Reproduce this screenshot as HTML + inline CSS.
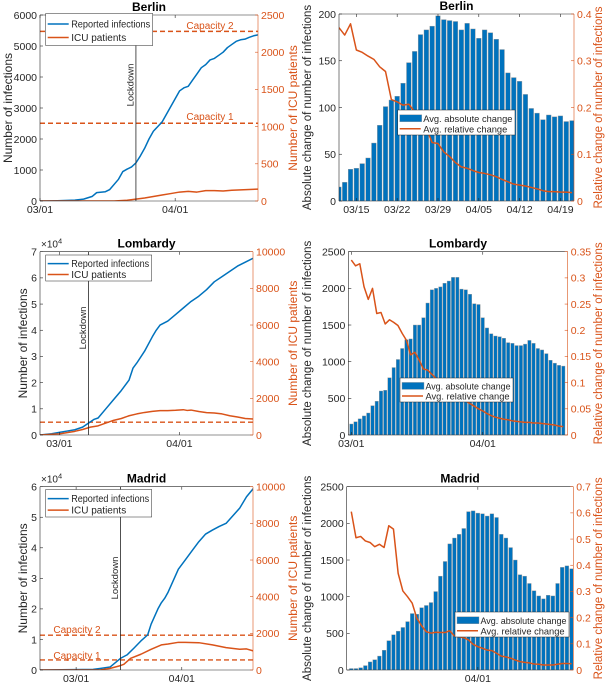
<!DOCTYPE html>
<html><head><meta charset="utf-8"><style>
body{margin:0;background:#fff;}
svg{display:block;font-family:"Liberation Sans",sans-serif;}
</style></head><body>
<svg id="fig" width="607" height="685" viewBox="0 0 607 685"></svg>
<script>
// ---------- DATA ----------
// Berlin (day 0 = 03/01)
const berlinInfDays = [0,4,8,10,12,13,15,16,18,19,20,21,22,23,24,25,26,27,28,29,30,31,32,33,34,35,36,37,38,39,40,41,42,43,44,45,46,47,48,49,50];
const berlinInfVals = [0,10,30,60,150,270,300,370,700,950,1030,1100,1230,1450,1700,2000,2250,2400,2550,2800,3050,3300,3550,3650,3700,3900,4100,4300,4400,4550,4600,4700,4800,4950,5050,5150,5200,5220,5280,5330,5360];
const berlinIcuDays = [0,17,20,22,24,26,28,30,32,34,36,38,40,42,44,46,48,50];
const berlinIcuVals = [0,0,10,25,40,60,80,100,120,130,120,140,140,135,145,150,155,160];
const berlinCapacities = [1045, 2280];
const berlinBarStart = 11;
const berlinAbs = [15,20,34,35,40,46,62,81,101,108,112,126,148,160,178,183,187,198,194,193,192,183,190,184,174,183,180,173,162,137,132,128,114,99,94,87,92,90,91,85,86];
const berlinRel = [0.371,0.355,0.379,0.323,0.318,0.31,0.303,0.287,0.277,0.217,0.212,0.205,0.207,0.191,0.175,0.155,0.125,0.123,0.105,0.095,0.082,0.073,0.07,0.065,0.061,0.059,0.056,0.052,0.046,0.041,0.036,0.034,0.032,0.029,0.026,0.022,0.02,0.02,0.019,0.019,0.018];
// Lombardy
const lombInfDays = [-5,-2,0,2,4,6,8,9,10,12,14,16,18,19,20,22,24,25,26,28,30,32,34,36,38,40,42,44,46,48,50];
const lombInfVals = [0,0.05,0.1,0.15,0.2,0.3,0.5,0.6,0.65,1.0,1.35,1.7,2.1,2.55,2.75,3.2,3.75,4.0,4.2,4.35,4.6,4.85,5.1,5.3,5.55,5.85,6.05,6.25,6.45,6.6,6.75];
const lombIcuDays = [-5,0,4,6,8,10,12,14,16,18,20,22,24,26,28,30,32,33,34,36,38,40,42,44,46,48,50];
const lombIcuVals = [0,60,200,300,430,500,650,800,900,1050,1150,1230,1290,1330,1330,1350,1380,1340,1360,1280,1220,1200,1150,1050,980,900,870];
const lombCapacities = [700];
const lombBarStart = 0;
const lombAbs = [150,180,220,260,300,400,460,600,610,780,920,1030,1180,1300,1310,1500,1500,1600,1800,1980,2000,2020,2070,2100,2150,2150,1990,1980,1920,1790,1780,1600,1460,1380,1350,1340,1320,1260,1250,1220,1220,1240,1290,1250,1180,1160,1110,1020,980,950,940];
const lombRel = [0.334,0.323,0.327,0.283,0.259,0.28,0.232,0.234,0.212,0.22,0.215,0.209,0.194,0.181,0.153,0.158,0.143,0.126,0.124,0.116,0.108,0.1,0.093,0.087,0.08,0.075,0.07,0.065,0.06,0.055,0.05,0.046,0.041,0.037,0.034,0.032,0.03,0.029,0.027,0.026,0.025,0.024,0.024,0.023,0.023,0.022,0.021,0.02,0.019,0.017,0.016];
// Madrid
const madInfDays = [-11,5,7,10,13,15,17,19,21,22,24,25,26,27,28,29,30,32,34,36,38,40,42,44,46,48,50,52];
const madInfVals = [0,0.02,0.05,0.1,0.38,0.5,0.72,0.95,1.15,1.5,2.0,2.2,2.35,2.55,2.8,3.05,3.3,3.6,3.9,4.2,4.45,4.58,4.7,4.8,5.05,5.3,5.67,5.94];
const madIcuDays = [-11,7,10,13,14,16,19,22,25,27,30,32,36,40,44,48,50,52];
const madIcuVals = [0,0,90,240,310,640,860,1130,1370,1420,1510,1510,1490,1370,1220,1130,1150,1040];
const madCapacities = [550, 1900];
const madBarStart = 4;
const madAbs = [20,20,30,60,110,140,190,270,400,480,530,580,660,770,760,850,880,920,1070,1280,1480,1720,1800,1850,1930,2160,2170,2140,2130,2100,2130,2080,1850,1800,1670,1500,1300,1280,1180,1080,1010,970,1020,1010,1180,1400,1420,1380];
const madRel = [0.605,0.505,0.51,0.493,0.487,0.471,0.48,0.468,0.551,0.538,0.369,0.302,0.28,0.255,0.197,0.169,0.146,0.141,0.144,0.143,0.143,0.15,0.13,0.127,0.123,0.115,0.098,0.089,0.083,0.076,0.074,0.064,0.053,0.05,0.045,0.038,0.032,0.029,0.027,0.023,0.022,0.019,0.019,0.019,0.022,0.025,0.025,0.024];
// ticks
const berlinLeftTicks = [0,1000,2000,3000,4000,5000,6000];
const berlinIcuTicks = [0,500,1000,1500,2000,2500];
const e4Ticks = [0,1,2,3,4,5,6,7];
const madE4Ticks = [0,1,2,3,4,5,6];
const icu10kTicks = [0,2000,4000,6000,8000,10000];
const berlinAbsTicks = [0,50,100,150,200];
const berlinRelTicks = [0,0.1,0.2,0.3,0.4];
const absTicks2500 = [0,500,1000,1500,2000,2500];
const lombRelTicks = [0,0.05,0.1,0.15,0.2,0.25,0.3,0.35];
const madRelTicks = [0,0.1,0.2,0.3,0.4,0.5,0.6,0.7];
const berlinDateTicks = [14,21,28,35,42,49];
const berlinDateLabels = ["03/15","03/22","03/29","04/05","04/12","04/19"];
const monthTicks = [0,31];
const monthLabels = ["03/01","04/01"];
const aprTicks = [31];
const aprLabels = ["04/01"];

// ---------- DRAWING ----------
const NS = "http://www.w3.org/2000/svg";
const svg = document.getElementById("fig");
const BLUE = "#0072BD", ORANGE = "#D95319";
function mk(parent, tag, attrs, txt){
  const el = document.createElementNS(NS, tag);
  for (const k in attrs) el.setAttribute(k, attrs[k]);
  if (txt !== undefined) el.textContent = txt;
  parent.appendChild(el);
  return el;
}
let clipId = 0;
function fmt(v){ return String(Math.round(v*1000)/1000); }

function panel(c){
  const g = mk(svg, "g", {});
  
  
  const sx = d => c.x0 + (d - c.xd[0]) / (c.xd[1] - c.xd[0]) * (c.x1 - c.x0);
  const syl = v => c.y1 - v / c.yl * (c.y1 - c.y0);
  const syr = v => c.y1 - v / c.yr * (c.y1 - c.y0);
  const id = "clip" + (clipId++);
  const defs = mk(g, "defs", {});
  const cp = mk(defs, "clipPath", {id: id});
  mk(cp, "rect", {x: c.x0, y: c.y0, width: c.x1 - c.x0, height: c.y1 - c.y0});
  const plot = mk(g, "g", {"clip-path": "url(#" + id + ")"});
  
  
  if (c.bars){
    const k = (c.x1 - c.x0) / (c.xd[1] - c.xd[0]);
    c.bars.forEach((v, i) => {
      const cx = sx(c.barStart + i);
      const r = mk(plot, "rect", {x: cx - k*0.4, y: syl(v), width: k*0.8, height: c.y1 - syl(v), fill: BLUE, stroke: "#9a9a9a", "stroke-width": 0.4});
      
      
    });
  }
  (c.caps || []).forEach((v) => {
    const l = mk(plot, "line", {x1: c.x0, x2: c.x1, y1: syr(v), y2: syr(v), stroke: ORANGE, "stroke-width": 1.4, "stroke-dasharray": "5,3"});
    
    
  });
  (c.lines || []).forEach(L => {
    const sy = L.axis === "r" ? syr : syl;
    const pts = L.days.map((d, i) => sx(d).toFixed(2) + "," + sy(L.vals[i]).toFixed(2)).join(" ");
    const p = mk(plot, "polyline", {points: pts, fill: "none", stroke: L.color, "stroke-width": 1.5, "stroke-linejoin": "round"});
    
    
  });
  if (c.lockdown !== undefined){
    const lx = sx(c.lockdown);
    const l = mk(g, "line", {x1: lx, x2: lx, y1: c.y0, y2: c.y1, stroke: "#262626", "stroke-width": 0.8});
    
    
    const t = mk(g, "text", {x: 0, y: 0, "font-size": 9.5, fill: "#262626", "text-anchor": "middle", transform: "translate(" + (lx - 2.5) + "," + c.lockY + ") rotate(-90)"}, "Lockdown");
    
    
  }
  (c.capLabels || []).forEach(cl => {
    const t = mk(g, "text", {x: cl.x, y: cl.y, "font-size": 10, fill: ORANGE, "text-anchor": "middle"}, cl.t);
    
    
  });
  mk(g, "line", {x1: c.x0, x2: c.x1, y1: c.y0, y2: c.y0, stroke: "#262626", "stroke-width": 0.6});
  mk(g, "line", {x1: c.x0, x2: c.x1, y1: c.y1, y2: c.y1, stroke: "#262626", "stroke-width": 0.6});
  mk(g, "line", {x1: c.x0, x2: c.x0, y1: c.y0, y2: c.y1, stroke: "#262626", "stroke-width": 0.6});
  mk(g, "line", {x1: c.x1, x2: c.x1, y1: c.y0, y2: c.y1, stroke: ORANGE, "stroke-width": 0.6});
  c.ylTicks.forEach(v => {
    const y = syl(v);
    mk(g, "line", {x1: c.x0, x2: c.x0 + 3, y1: y, y2: y, stroke: "#262626", "stroke-width": 0.6});
    const t = mk(g, "text", {x: c.x0 - 3, y: y + 3.8, "font-size": 10.5, fill: "#262626", "text-anchor": "end"}, fmt(v));
    
    
  });
  c.yrTicks.forEach(v => {
    const y = syr(v);
    mk(g, "line", {x1: c.x1 - 3, x2: c.x1, y1: y, y2: y, stroke: ORANGE, "stroke-width": 0.6});
    const t = mk(g, "text", {x: c.x1 + 3, y: y + 3.8, "font-size": 10.5, fill: ORANGE, "text-anchor": "start"}, fmt(v));
    
    
  });
  c.xTicks.forEach((d, i) => {
    const x = sx(d);
    mk(g, "line", {x1: x, x2: x, y1: c.y1, y2: c.y1 - 3, stroke: "#262626", "stroke-width": 0.6});
    mk(g, "line", {x1: x, x2: x, y1: c.y0, y2: c.y0 + 3, stroke: "#262626", "stroke-width": 0.6});
    const t = mk(g, "text", {x: x, y: c.y1 + 12, "font-size": 10.5, fill: "#262626", "text-anchor": "middle"}, c.xLabels[i]);
    
    
  });
  if (c.e4){
    const t = mk(g, "text", {x: c.x0 + 1, y: c.y0 - 4, "font-size": 10, fill: "#262626"}, "×10");
    
    
    mk(t, "tspan", {dy: -4, "font-size": 7.5}, "4");
  }
  const tt = mk(g, "text", {x: (c.x0 + c.x1)/2, y: c.y0 - 4, "font-size": 12, "font-weight": "bold", fill: "#000", "text-anchor": "middle"}, c.title);
  
  
  const cy = (c.y0 + c.y1)/2;
  const yl = mk(g, "text", {x: 0, y: 0, "font-size": c.labFs, fill: "#262626", "text-anchor": "middle", transform: "translate(" + c.ylX + "," + cy + ") rotate(-90)"}, c.ylLabel);
  
  
  const yr = mk(g, "text", {x: 0, y: 0, "font-size": c.labFs, fill: ORANGE, "text-anchor": "middle", transform: "translate(" + c.yrX + "," + cy + ") rotate(-90)"}, c.yrLabel);
  
  
  const L = c.legend;
  const lg = mk(g, "g", {});
  
  
  mk(lg, "rect", {x: L.x, y: L.y, width: L.w, height: L.h, fill: "#fff", stroke: "#262626", "stroke-width": 0.5});
  L.items.forEach((it, i) => {
    const ry = L.y + L.h * (i === 0 ? 0.33 : 0.75);
    if (it.bar) mk(lg, "rect", {x: L.x + 2, y: ry - 3.5, width: 22, height: 7, fill: BLUE, stroke: "#9a9a9a", "stroke-width": 0.4});
    else mk(lg, "line", {x1: L.x + 2, x2: L.x + 23, y1: ry, y2: ry, stroke: it.color, "stroke-width": 1.5});
    const t = mk(lg, "text", {x: L.x + 25.5, y: ry + 3.5, "font-size": L.fs || 10, fill: "#262626"}, it.t);
    
    
    const maxW = L.w - 28;
    try { if (t.getComputedTextLength() > maxW) { t.setAttribute("textLength", maxW); t.setAttribute("lengthAdjust", "spacingAndGlyphs"); } } catch(e) {}
  });
}

const leftLegend = [{t: "Reported infections", color: BLUE}, {t: "ICU patients", color: ORANGE}];
const rightLegend = [{t: "Avg. absolute change", bar: true}, {t: "Avg. relative change", color: ORANGE}];

panel({name: "berlin-infections-panel", title: "Berlin", x0: 40, x1: 258, y0: 15, y1: 201, xd: [0, 50],
  yl: 6000, ylTicks: berlinLeftTicks, yr: 2500, yrTicks: berlinIcuTicks, xTicks: monthTicks, xLabels: monthLabels,
  lines: [{days: berlinInfDays, vals: berlinInfVals, color: BLUE, axis: "l", name: "reported-infections-line"},
          {days: berlinIcuDays, vals: berlinIcuVals, color: ORANGE, axis: "r", name: "icu-patients-line"}],
  caps: berlinCapacities, capLabels: [{x: 210, y: 29, t: "Capacity 2"}, {x: 210, y: 120, t: "Capacity 1"}],
  lockdown: 22, lockY: 85, ylX: 12, yrX: 297, labFs: 12,
  ylLabel: "Number of infections", yrLabel: "Number of ICU patients",
  legend: {x: 45.7, y: 13.5, w: 107, h: 32, items: leftLegend}});

panel({name: "lombardy-infections-panel", title: "Lombardy", x0: 40, x1: 253, y0: 251.7, y1: 435, xd: [-5, 50], e4: true,
  yl: 7, ylTicks: e4Ticks, yr: 10000, yrTicks: icu10kTicks, xTicks: monthTicks, xLabels: monthLabels,
  lines: [{days: lombInfDays, vals: lombInfVals, color: BLUE, axis: "l", name: "reported-infections-line"},
          {days: lombIcuDays, vals: lombIcuVals, color: ORANGE, axis: "r", name: "icu-patients-line"}],
  caps: lombCapacities, capLabels: [],
  lockdown: 7.5, lockY: 328, ylX: 27, yrX: 297, labFs: 12,
  ylLabel: "Number of infections", yrLabel: "Number of ICU patients",
  legend: {x: 45.7, y: 255, w: 106, h: 26, items: leftLegend}});

panel({name: "madrid-infections-panel", title: "Madrid", x0: 40, x1: 253, y0: 486.7, y1: 670, xd: [-10.6, 51.9], e4: true,
  yl: 6, ylTicks: madE4Ticks, yr: 10000, yrTicks: icu10kTicks, xTicks: monthTicks, xLabels: monthLabels,
  lines: [{days: madInfDays, vals: madInfVals, color: BLUE, axis: "l", name: "reported-infections-line"},
          {days: madIcuDays, vals: madIcuVals, color: ORANGE, axis: "r", name: "icu-patients-line"}],
  caps: madCapacities, capLabels: [{x: 77, y: 633, t: "Capacity 2"}, {x: 77, y: 659, t: "Capacity 1"}],
  lockdown: 13, lockY: 578, ylX: 27, yrX: 297, labFs: 12,
  ylLabel: "Number of infections", yrLabel: "Number of ICU patients",
  legend: {x: 45.7, y: 489.5, w: 106, h: 27.5, items: leftLegend}});

panel({name: "berlin-change-panel", title: "Berlin", x0: 339, x1: 574, y0: 14, y1: 201, xd: [11.02, 51.33],
  yl: 200, ylTicks: berlinAbsTicks, yr: 0.4, yrTicks: berlinRelTicks, xTicks: berlinDateTicks, xLabels: berlinDateLabels,
  bars: berlinAbs, barStart: berlinBarStart,
  lines: [{days: berlinRel.map((v, i) => berlinBarStart + i), vals: berlinRel, color: ORANGE, axis: "r", name: "relative-change-line"}],
  ylX: 311, yrX: 602, labFs: 11.5,
  ylLabel: "Absolute change of number of infections", yrLabel: "Relative change of number of infections",
  legend: {x: 397.7, y: 110, w: 117.3, h: 25, fs: 9.3, items: rightLegend}});

panel({name: "lombardy-change-panel", title: "Lombardy", x0: 348.3, x1: 567.7, y0: 251.7, y1: 435, xd: [-0.71, 51.04],
  yl: 2500, ylTicks: absTicks2500, yr: 0.35, yrTicks: lombRelTicks, xTicks: monthTicks, xLabels: monthLabels,
  bars: lombAbs, barStart: lombBarStart,
  lines: [{days: lombRel.map((v, i) => lombBarStart + i), vals: lombRel, color: ORANGE, axis: "r", name: "relative-change-line"}],
  ylX: 311, yrX: 602, labFs: 11.5,
  ylLabel: "Absolute change of number of infections", yrLabel: "Relative change of number of infections",
  legend: {x: 400, y: 378, w: 113, h: 24, fs: 9.3, items: rightLegend}});

panel({name: "madrid-change-panel", title: "Madrid", x0: 346.7, x1: 573.3, y0: 486.7, y1: 670, xd: [3.02, 51.37],
  yl: 2500, ylTicks: absTicks2500, yr: 0.7, yrTicks: madRelTicks, xTicks: aprTicks, xLabels: aprLabels,
  bars: madAbs, barStart: madBarStart,
  lines: [{days: madRel.map((v, i) => madBarStart + i), vals: madRel, color: ORANGE, axis: "r", name: "relative-change-line"}],
  ylX: 311, yrX: 602, labFs: 11.5,
  ylLabel: "Absolute change of number of infections", yrLabel: "Relative change of number of infections",
  legend: {x: 455, y: 612, w: 114, h: 25, fs: 9.3, items: rightLegend}});
</script>
</body></html>
